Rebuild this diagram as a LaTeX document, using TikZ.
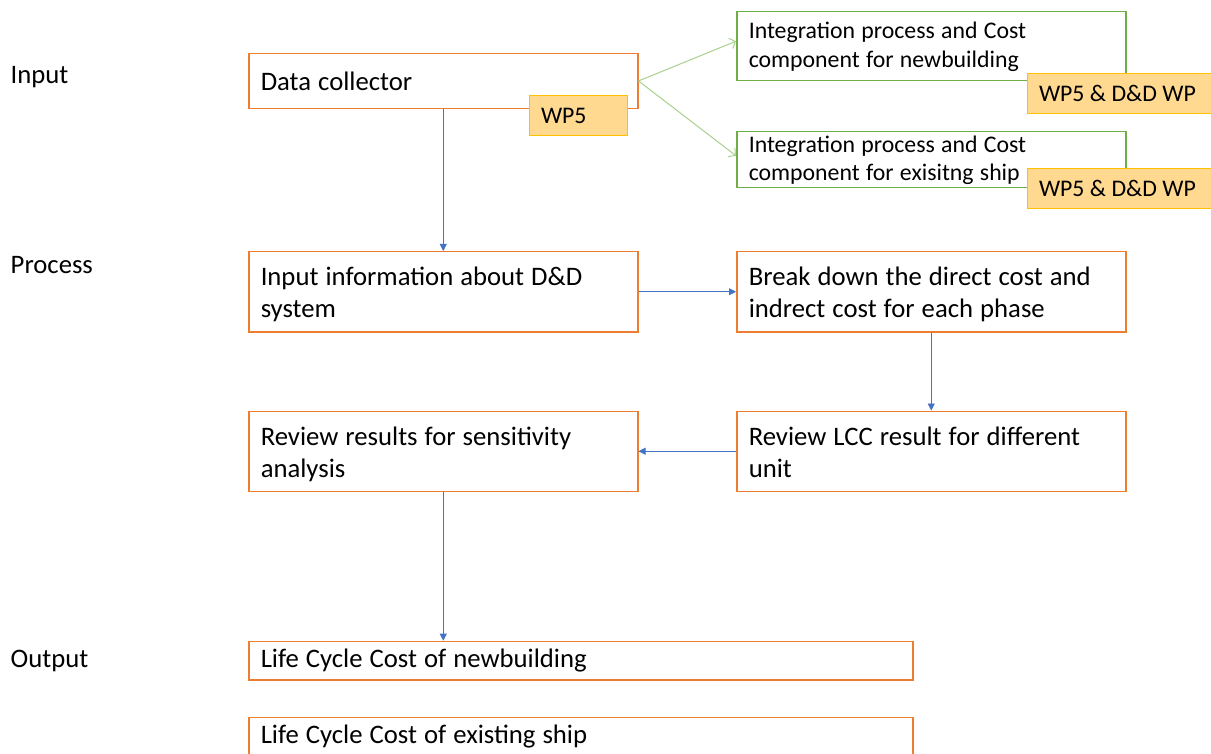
\documentclass[tikz,border=0pt]{standalone}
\usepackage{fontspec}
\setmainfont{Carlito}
\usetikzlibrary{arrows.meta,calc}
\definecolor{org}{HTML}{ED7D31}
\definecolor{grn}{HTML}{70AD47}
\definecolor{lgrn}{HTML}{A9D18E}
\definecolor{blu}{HTML}{4472C4}
\definecolor{tagfill}{HTML}{FFD98F}
\definecolor{tagline}{HTML}{FFC000}
\newcommand\otop{\rule{0pt}{24pt}}
\newcommand\obot{\rule[-4pt]{0pt}{4pt}}
\newcommand\gtop{\rule{0pt}{20pt}}
\newcommand\gbot{\rule[-6pt]{0pt}{6pt}}
\newcommand\widesp{\spaceskip=0.264em\relax}
\begin{document}
\begin{tikzpicture}[x=1pt,y=-1pt,
  obox/.style={draw=org,line width=1.5pt,anchor=north west,inner xsep=12pt,inner ysep=0pt,
    align=flush left,text width=365pt,minimum height=80pt,font=\fontsize{26.7}{32}\selectfont\widesp},
  gbox/.style={draw=grn,line width=1.5pt,anchor=north west,inner xsep=12pt,inner ysep=0pt,
    align=flush left,text width=365pt,font=\fontsize{23.8}{28.5}\selectfont\widesp},
  tagbox/.style={draw=tagline,fill=tagfill,line width=1pt,anchor=north west,inner xsep=11.5pt,
    inner ysep=0pt,align=flush left,minimum height=40pt,font=\fontsize{23.8}{28}\selectfont},
  lbl/.style={anchor=base west,inner sep=0pt,font=\fontsize{26.7}{32}\selectfont},
  barrow/.style={draw=blu,line width=0.9pt,-{Triangle[length=7pt,width=7pt]}},
  garrow/.style={draw=lgrn,line width=1pt,-{Straight Barb[length=5pt,width=11pt]}}
]
\useasboundingbox (0,0) rectangle (1211,754);
\clip (0,0) rectangle (1211,754);
\fill[white] (0,0) rectangle (1211,754);

% side labels
\node[lbl] (linput) at (10.5,83.3) {Input};
\node[lbl] (lprocess) at (10.5,273.5) {Process};
\node[lbl] (loutput) at (10.5,667) {Output};

% input row
\node[obox,minimum height=55pt] (dc) at (248,52.7) {Data collector};
\node[tagbox,text width=75pt] (wp5) at (529,95) {WP5};

\node[gbox,minimum height=69pt] (g1) at (736,11) {\gtop Integration process and Cost\\component for newbuilding\gbot};
\node[gbox,minimum height=56pt] (g2) at (736,131) {\gtop Integration process and Cost\\component for exisitng ship\gbot};
\node[tagbox,text width=177pt] (t1) at (1027,72.7) {WP5 \& D\&D WP};
\node[tagbox,text width=177pt] (t2) at (1027,168) {WP5 \& D\&D WP};

% process rows
\node[obox] (inp) at (248,251) {\otop Input information about D\&D\\system\obot};
\node[obox] (brk) at (736,251) {\otop Break down the direct cost and\\indrect cost for each phase\obot};
\node[obox] (lcc) at (736,410.5) {\otop Review LCC result for different\\unit\obot};
\node[obox] (rev) at (248,410.5) {\otop Review results for sensitivity\\analysis\obot};

% output
\node[obox,text width=640pt,minimum height=38.5pt] (o1) at (248,640.7) {Life Cycle Cost of newbuilding};
\node[obox,text width=640pt,minimum height=38.5pt] (o2) at (248,716.7) {Life Cycle Cost of existing ship};

% connectors
\draw[garrow] (dc.east) -- ($(g1.west)+(0,-5)$);
\draw[garrow] (dc.east) -- ($(g2.west)+(0,-4)$);
\draw[barrow] (dc.south) -- (inp.north);
\draw[barrow] (inp.east) -- (brk.west);
\draw[barrow] (brk.south) -- (lcc.north);
\draw[barrow] (lcc.west) -- (rev.east);
\draw[barrow] (rev.south) -- (rev.south |- o1.north);
\end{tikzpicture}
\end{document}
